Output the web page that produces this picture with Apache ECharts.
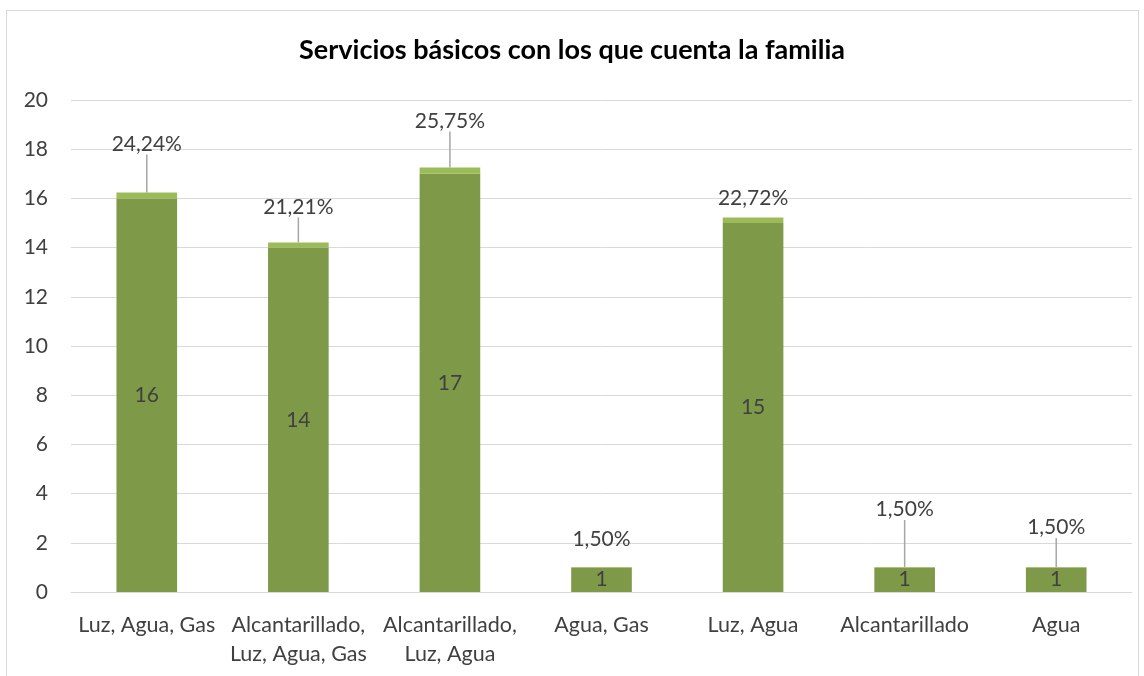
<!DOCTYPE html>
<html>
<head>
<meta charset="utf-8">
<title>Servicios básicos</title>
<script src="https://cdn.jsdelivr.net/npm/echarts@6/dist/echarts.min.js"></script>
<style>
  html, body { margin: 0; padding: 0; background: #fff; }
  #frame { position: absolute; left: 6px; top: 10px; width: 1133px; height: 680px; border: 1px solid #d9d9d9; box-sizing: border-box; }
  #chart { position: absolute; left: 0; top: 0; width: 1144px; height: 676px; }
</style>
</head>
<body>
<div id="frame"></div>
<div id="chart"></div>
<script>
// categories and values
var categories = ['Luz, Agua, Gas', 'Alcantarillado,\nLuz, Agua, Gas', 'Alcantarillado,\nLuz, Agua', 'Agua, Gas', 'Luz, Agua', 'Alcantarillado', 'Agua']
var counts = [16, 14, 17, 1, 15, 1, 1]
var percents = [0.2424, 0.2121, 0.2575, 0.015, 0.2272, 0.015, 0.015]
var yTicks = { min: 0, max: 20, interval: 2 }

// how far each percent label sits above its bar (px), and whether it gets a leader line
var labelLift = [-34, -21, -32, -13, -5, -43, -25]
var leader = [true, true, true, false, false, true, true]

var fontFamily = 'Lato, "Open Sans", sans-serif'
var textColor = '#404040'

var pctData = percents.map(function(v, i) {
  return { value: v, labelLine: { show: leader[i] } }
})

var chart = echarts.init(document.getElementById('chart'))
chart.setOption({
  animation: false,
  title: {
    text: 'Servicios básicos con los que cuenta la familia',
    left: 'center',
    top: 32,
    textStyle: { fontFamily: fontFamily, fontSize: 27, fontWeight: 'bold', color: '#000' }
  },
  grid: { left: 71, right: 12, top: 100, bottom: 84 },
  xAxis: {
    type: 'category',
    data: categories,
    axisLine: { lineStyle: { color: '#d9d9d9', width: 1 } },
    axisTick: { show: false },
    axisLabel: {
      interval: 0,
      margin: 19,
      color: textColor,
      fontFamily: fontFamily,
      fontSize: 21.5,
      lineHeight: 29
    }
  },
  yAxis: {
    type: 'value',
    min: yTicks.min,
    max: yTicks.max,
    interval: yTicks.interval,
    axisLine: { show: false },
    axisTick: { show: false },
    splitLine: { lineStyle: { color: '#d9d9d9', width: 1 } },
    axisLabel: { color: textColor, fontFamily: fontFamily, fontSize: 21, margin: 23 }
  },
  series: [
    {
      name: 'Cantidad',
      type: 'bar',
      stack: 'total',
      barWidth: '40%',
      data: counts,
      itemStyle: { color: '#7e9a48' },
      label: {
        show: true,
        position: 'inside',
        color: textColor,
        fontFamily: fontFamily,
        fontSize: 21
      }
    },
    {
      name: 'Porcentaje',
      type: 'bar',
      stack: 'total',
      barWidth: '40%',
      data: pctData,
      itemStyle: { color: '#9bbb59' },
      label: {
        show: true,
        position: 'top',
        distance: 4,
        color: textColor,
        fontFamily: fontFamily,
        fontSize: 21,
        formatter: function(p) {
          return (p.value * 100).toFixed(2).replace('.', ',') + '%'
        }
      },
      labelLine: {
        show: true,
        length2: 0,
        lineStyle: { color: '#a6a6a6', width: 1.5 }
      },
      labelLayout: function(params) {
        return { dy: labelLift[params.dataIndex] }
      }
    }
  ]
})
</script>
</body>
</html>
